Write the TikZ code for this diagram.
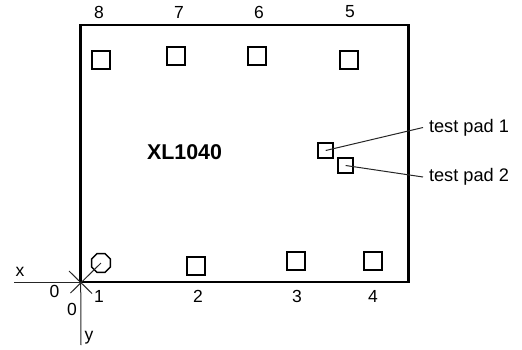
\documentclass[tikz,border=0pt]{standalone}
\usepackage{fontspec}
\setmainfont{Liberation Sans}
\usetikzlibrary{shapes.geometric}
\tikzset{
  padA/.style={draw,line width=1.5pt,minimum size=18pt,inner sep=0pt},
  padB/.style={draw,line width=1.5pt,minimum size=15pt,inner sep=0pt},
  padC/.style={draw,line width=1.5pt,regular polygon,regular polygon sides=8,minimum size=20.5pt,inner sep=0pt},
  lbl/.style={inner sep=0pt,font=\fontsize{17.5}{20}\selectfont},
  thin line/.style={line width=1pt,draw=black!85},
}
\begin{document}
\begin{tikzpicture}[x=1pt,y=-1pt]
\useasboundingbox (0,0) rectangle (522,349);
\coordinate (tl) at (80.7,25);
\coordinate (br) at (408.7,282);
\coordinate (o) at (80.7,282);
\draw[line width=2.6pt] (tl) rectangle (br);
\node[padA] (p8) at (101,60) {};
\node[padA] (p7) at (176,56) {};
\node[padA] (p6) at (257,56) {};
\node[padA] (p5) at (349,60) {};
\node[padA] (p2) at (196,266) {};
\node[padA] (p3) at (296,261) {};
\node[padA] (p4) at (373,261) {};
\node[padC] (p1) at (101,263) {};
\node[padB] (t1) at (325.7,150.5) {};
\node[padB] (t2) at (345.7,165.5) {};
\node[lbl,anchor=west,font=\fontsize{18.2}{20}\selectfont,outer sep=6pt] (l1) at (423,127.5) {test pad 1};
\node[lbl,anchor=west,font=\fontsize{18.2}{20}\selectfont,outer sep=6pt] (l2) at (423,177) {test pad 2};
\draw[thin line] (t1.center) -- (l1.west);
\draw[thin line] (t2.center) -- (l2.west);
\node[lbl,font=\fontsize{21.4}{24}\selectfont\bfseries] (chip) at (184.5,152.5) {XL1040};
\node[lbl] (n8) at (99,12) {8};
\node[lbl] (n7) at (179,12) {7};
\node[lbl] (n6) at (259,12) {6};
\node[lbl] (n5) at (350,12) {5};
\node[lbl] (n1) at (99,296.5) {1};
\node[lbl] (n2) at (198,296.5) {2};
\node[lbl] (n3) at (297,296.5) {3};
\node[lbl] (n4) at (373,296.5) {4};
\node[lbl] (nx) at (20,272) {x};
\node[lbl] (n0a) at (54.5,291) {0};
\node[lbl] (n0b) at (72,309.5) {0};
\node[lbl] (ny) at (89,338) {y};
\coordinate (xa) at (14,282);
\coordinate (ya) at (81,345);
\coordinate (c1) at (69,271);
\coordinate (c2) at (92,293.5);
\coordinate (c3) at (70.5,293);
\draw[thin line] (xa) -- (o);
\draw[thin line] (o) -- (ya);
\draw[thin line] (c1) -- (c2);
\draw[thin line] (c3) -- (p1.center);
\end{tikzpicture}
\end{document}
